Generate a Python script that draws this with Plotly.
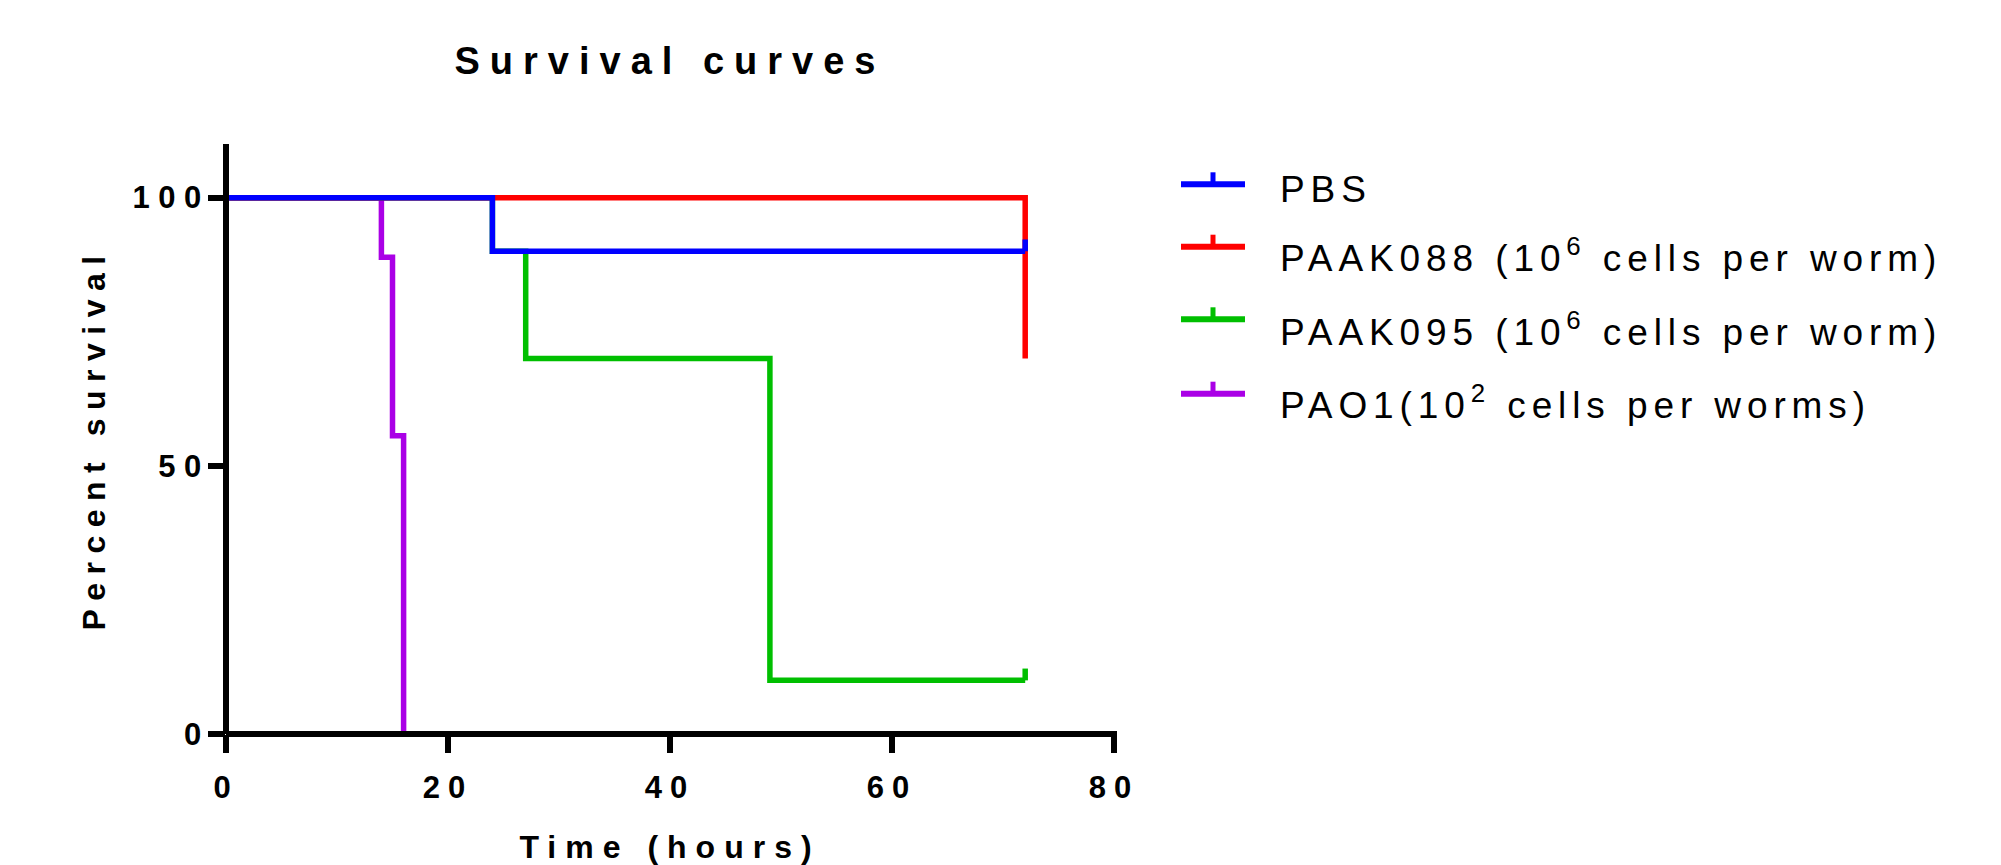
import plotly.graph_objects as go

# ---------------- data ----------------
time_ticks = [0, 20, 40, 60, 80]
time_tick_labels = ["0", "20", "40", "60", "80"]
surv_ticks = [0, 50, 100]
surv_tick_labels = ["0", "50", "100"]

series_names = [
    "PBS",
    "PAAK088 (10<sup>6</sup> cells per worm)",
    "PAAK095 (10<sup>6</sup> cells per worm)",
    "PAO1(10<sup>2</sup> cells per worms)",
]
series_colors = ["#0000FF", "#FF0000", "#00BF00", "#AA00E6"]

pbs_time = [0, 24, 72]
pbs_surv = [100, 90, 90]
pbs_cens_time = [72]
pbs_cens_surv = [90]

paak088_time = [0, 72]
paak088_surv = [100, 70]

paak095_time = [0, 24, 27, 49, 72]
paak095_surv = [100, 90, 70, 10, 10]
paak095_cens_time = [72]
paak095_cens_surv = [10]

pao1_time = [0, 14, 15, 16]
pao1_surv = [100, 88.9, 55.6, 0]

# ---------------- layout constants ----------------
W, H = 2001, 865
ML, MR, MT, MB = 226, 887, 144, 131
PW, PH = W - ML - MR, H - MT - MB
FONT = "Liberation Sans, Arial, sans-serif"
LW = 5.5
CENSOR_H = 2.2


def px_x(p):
    return (p - ML) / PW


def px_y(p):
    return (H - MB - p) / PH


def spaced(t, ls):
    return '<span style="letter-spacing:%gpx">%s</span>' % (ls, t)


fig = go.Figure()

curves = [
    (pao1_time, pao1_surv, 3),
    (paak095_time, paak095_surv, 2),
    (paak088_time, paak088_surv, 1),
    (pbs_time, pbs_surv, 0),
]
for t, s, i in curves:
    fig.add_trace(go.Scatter(
        x=t, y=s, mode="lines", name=series_names[i],
        line=dict(color=series_colors[i], width=LW, shape="hv"),
        showlegend=False, hoverinfo="skip"))

for t, s, i in [(paak095_cens_time, paak095_cens_surv, 2), (pbs_cens_time, pbs_cens_surv, 0)]:
    fig.add_trace(go.Scatter(
        x=t, y=s, mode="markers", marker=dict(size=0.1, color=series_colors[i]),
        error_y=dict(type="data", symmetric=False, array=[CENSOR_H] * len(t),
                     arrayminus=[0] * len(t), color=series_colors[i],
                     thickness=LW, width=0),
        showlegend=False, hoverinfo="skip"))

shapes = [
    dict(type="line", xref="paper", yref="paper", x0=0, x1=1 + 3 / PW, y0=0, y1=0,
         line=dict(color="black", width=6), layer="above"),
    dict(type="line", xref="paper", yref="paper", x0=0, x1=0, y0=0, y1=1,
         line=dict(color="black", width=6), layer="above"),
]
annotations = []

leg_line_y = [184.3, 246.7, 319.3, 393.7]
leg_text_y = [189.5, 255.5, 329.5, 402.0]
for i in range(4):
    yy = px_y(leg_line_y[i])
    shapes.append(dict(type="line", xref="paper", yref="paper",
                       x0=px_x(1181), x1=px_x(1245), y0=yy, y1=yy,
                       line=dict(color=series_colors[i], width=6)))
    shapes.append(dict(type="line", xref="paper", yref="paper",
                       x0=px_x(1213), x1=px_x(1213), y0=yy, y1=px_y(leg_line_y[i] - 12),
                       line=dict(color=series_colors[i], width=5)))
    annotations.append(dict(xref="paper", yref="paper", x=px_x(1278), y=px_y(leg_text_y[i]),
                            xanchor="left", yanchor="middle", showarrow=False,
                            text=spaced(series_names[i], 5.9),
                            font=dict(family=FONT, size=37, color="black")))

fig.update_layout(
    width=W, height=H,
    margin=dict(l=ML, r=MR, t=MT, b=MB, pad=0),
    paper_bgcolor="white", plot_bgcolor="white",
    title=dict(text=spaced("Survival curves", 10), x=0.5, xref="paper", xanchor="center",
               y=1 - 61 / H, yref="container", yanchor="middle",
               font=dict(family=FONT, size=38, color="black", weight="bold")),
    shapes=shapes, annotations=annotations,
    xaxis=dict(range=[0, 80], tickvals=time_ticks, automargin=False,
               ticktext=[spaced(s, 8) for s in time_tick_labels],
               showgrid=False, zeroline=False, showline=False,
               ticks="outside", ticklen=18, tickwidth=6, tickcolor="black",
               ticklabelstandoff=8,
               tickfont=dict(family=FONT, size=31, color="black", weight="bold"),
               title=dict(text=spaced("Time (hours)", 9), standoff=31,
                          font=dict(family=FONT, size=32, color="black", weight="bold"))),
    yaxis=dict(range=[0, 110], tickvals=surv_ticks, automargin=False,
               ticktext=[spaced(s, 8.5) for s in surv_tick_labels],
               showgrid=False, zeroline=False, showline=False,
               ticks="outside", ticklen=17, tickwidth=6, tickcolor="black",
               ticklabelstandoff=-8,
               tickfont=dict(family=FONT, size=31, color="black", weight="bold"),
               title=dict(text=spaced("Percent survival", 8.5), standoff=17,
                          font=dict(family=FONT, size=32, color="black", weight="bold"))),
)

fig.write_html("out.html", config={"displayModeBar": False},
               post_script="document.body.style.margin='0';document.body.style.overflow='hidden';")
